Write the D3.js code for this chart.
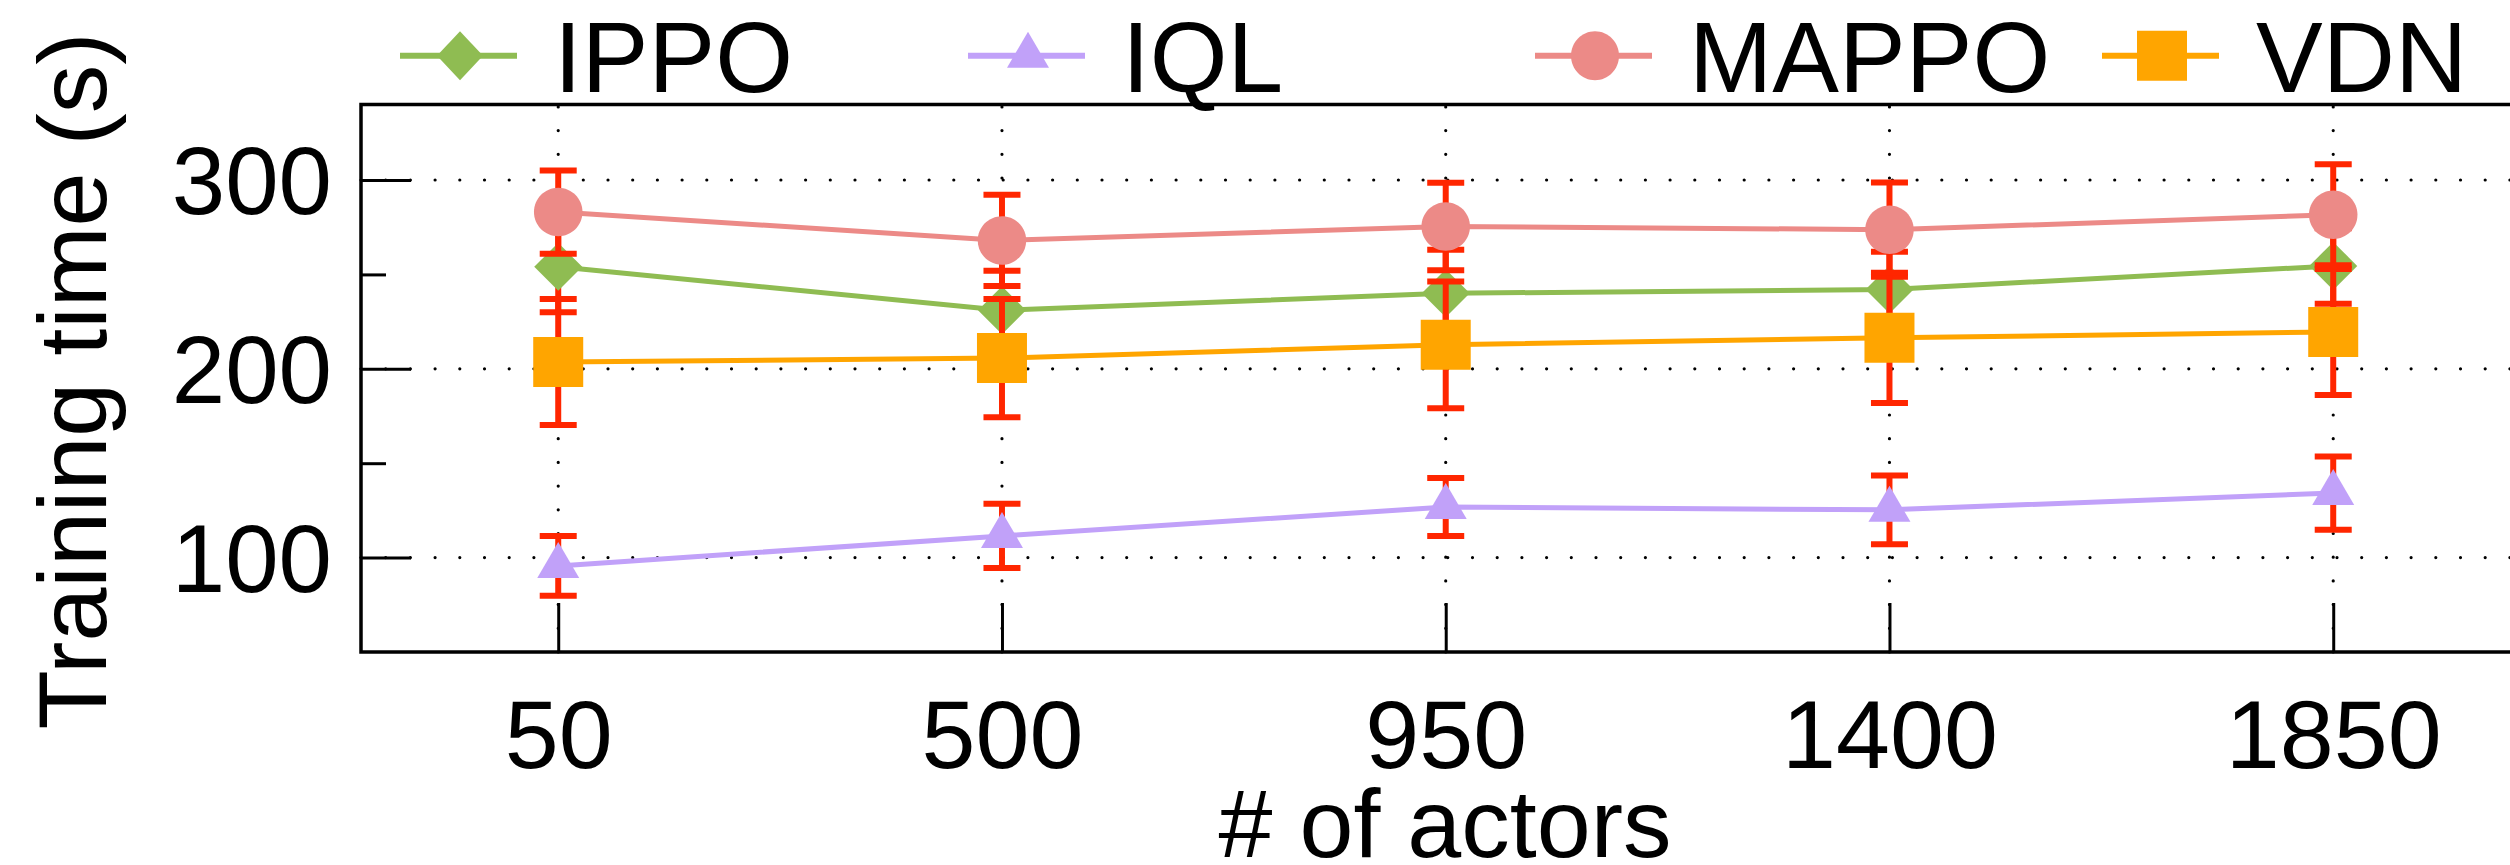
<!DOCTYPE html>
<html>
<head>
<meta charset="utf-8">
<script src="https://cdn.jsdelivr.net/npm/d3@7/dist/d3.min.js"></script>
<style>
  html, body { margin: 0; padding: 0; background: #fff; }
  svg { display: block; }
  text { font-family: "Liberation Sans", Arial, Helvetica, sans-serif; fill: #000; }
</style>
</head>
<body>
<svg id="chart" width="2510" height="865"></svg>
<script>
// ---- data ----
const actors = [50, 500, 950, 1400, 1850];
const xTickLabels = ["50", "500", "950", "1400", "1850"];
const yTicks = [100, 200, 300];
const yMinorTicks = [150, 250];

const seriesNames = ["IPPO", "IQL", "MAPPO", "VDN"];
const ippoTime  = [254, 231, 240, 242, 254.5];
const ippoErr   = [24, 21, 23, 20, 20];
const iqlTime   = [95.6, 111.5, 126.8, 125.3, 134.2];
const iqlErr    = [15.8, 17, 15.3, 18.2, 19.4];
const mappoTime = [283, 268, 275.4, 273.7, 281.6];
const mappoErr  = [22, 24.2, 23.2, 25, 26.7];
const vdnTime   = [203.6, 205.7, 212.7, 216.4, 219.5];
const vdnErr    = [33.4, 31.3, 33.6, 34.5, 33.4];

const xLabel = "# of actors";
const yLabel = "Training time (s)";

// ---- styling ----
const colors = { IPPO: "#8fbc52", IQL: "#c1a1f9", MAPPO: "#ec8a87", VDN: "#ffa500" };
const shapes = { IPPO: "diamond", IQL: "triangle", MAPPO: "circle", VDN: "square" };
const errColor = "#ff2600";

const series = [
  { name: "IPPO",  values: ippoTime,  errs: ippoErr },
  { name: "IQL",   values: iqlTime,   errs: iqlErr },
  { name: "MAPPO", values: mappoTime, errs: mappoErr },
  { name: "VDN",   values: vdnTime,   errs: vdnErr }
];

const svg = d3.select("#chart");
const plotLeft = 361, plotTop = 104.5, plotBottom = 652;

const x = d3.scaleLinear().domain([-150, 2050]).range([plotLeft, plotLeft + 2200 * (1775 / 1800)]);
const y = d3.scaleLinear().domain([50, 340]).range([plotBottom, plotTop]);

// marker path builders (width, height)
function markerPath(shape, w, h) {
  const p = d3.path();
  const a = w / 2, b = h / 2;
  if (shape === "circle") {
    const k = 0.5523;
    p.moveTo(a, 0);
    p.bezierCurveTo(a, k * b, k * a, b, 0, b);
    p.bezierCurveTo(-k * a, b, -a, k * b, -a, 0);
    p.bezierCurveTo(-a, -k * b, -k * a, -b, 0, -b);
    p.bezierCurveTo(k * a, -b, a, -k * b, a, 0);
  } else if (shape === "diamond") {
    p.moveTo(0, -b); p.lineTo(a, 0); p.lineTo(0, b); p.lineTo(-a, 0);
  } else if (shape === "square") {
    p.rect(-a, -b, w, h);
  } else if (shape === "triangle") {
    // centroid at origin
    p.moveTo(0, -2 * h / 3); p.lineTo(a, h / 3); p.lineTo(-a, h / 3);
  }
  p.closePath();
  return p.toString();
}
const plotMarker = {
  circle: [48.5, 48.5], diamond: [48, 48], square: [50, 50], triangle: [42, 36]
};
const legendMarker = {
  circle: [48, 49], diamond: [46, 49], square: [50, 50], triangle: [42, 36]
};

// ---- grid (dotted) ----
const grid = svg.append("g").attr("stroke", "#000").attr("stroke-width", 3.2)
  .attr("stroke-linecap", "round").attr("fill", "none");
grid.selectAll("line.h").data(yTicks).join("line")
  .attr("class", "h")
  .attr("x1", plotLeft).attr("x2", 2560)
  .attr("y1", d => y(d)).attr("y2", d => y(d))
  .attr("stroke-dasharray", "0,24.7");
grid.selectAll("line.v").data(actors).join("line")
  .attr("class", "v")
  .attr("x1", d => x(d)).attr("x2", d => x(d))
  .attr("y1", plotBottom).attr("y2", plotTop)
  .attr("stroke-dasharray", "0,23.7");

// ---- axes ----
const yAxis = d3.axisLeft(y).tickValues(yTicks).tickSizeInner(-50).tickSizeOuter(0).tickFormat("");
const gy = svg.append("g").attr("transform", `translate(${plotLeft},0)`).call(yAxis);
gy.select(".domain").remove();
gy.selectAll(".tick line").attr("stroke", "#000").attr("stroke-width", 3);

const yMinor = d3.axisLeft(y).tickValues(yMinorTicks).tickSizeInner(-25).tickSizeOuter(0).tickFormat("");
const gym = svg.append("g").attr("transform", `translate(${plotLeft},0)`).call(yMinor);
gym.select(".domain").remove();
gym.selectAll(".tick line").attr("stroke", "#000").attr("stroke-width", 3);

const xAxis = d3.axisBottom(x).tickValues(actors).tickSizeInner(-49).tickSizeOuter(0)
  .tickPadding(47).tickFormat((d, i) => xTickLabels[i]);
const gx = svg.append("g").attr("transform", `translate(0,${plotBottom})`).call(xAxis);
gx.select(".domain").remove();
gx.selectAll(".tick line").attr("stroke", "#000").attr("stroke-width", 3);
gx.selectAll(".tick text").attr("font-size", 97)
  .attr("font-family", "'Liberation Sans', Arial, sans-serif").attr("fill", "#000");

// y tick labels
svg.append("g").selectAll("text").data(yTicks).join("text")
  .attr("x", 332).attr("y", d => y(d) + 34)
  .attr("text-anchor", "end")
  .attr("font-size", 96)
  .text(d => d);

// frame
svg.append("rect")
  .attr("x", plotLeft).attr("y", plotTop)
  .attr("width", 2600 - plotLeft).attr("height", plotBottom - plotTop)
  .attr("fill", "none").attr("stroke", "#000").attr("stroke-width", 3.5);

// ---- series: error bars, line, markers ----
const line = d3.line().x((d, i) => x(actors[i])).y(d => y(d));
series.forEach(s => {
  const g = svg.append("g");
  const eb = g.append("g").attr("stroke", errColor);
  s.values.forEach((v, i) => {
    const cx = x(actors[i]);
    eb.append("line").attr("x1", cx).attr("x2", cx)
      .attr("y1", y(v + s.errs[i])).attr("y2", y(v - s.errs[i]))
      .attr("stroke-width", 6);
    [v + s.errs[i], v - s.errs[i]].forEach(e => {
      eb.append("line").attr("x1", cx - 18.5).attr("x2", cx + 18.5)
        .attr("y1", y(e)).attr("y2", y(e)).attr("stroke-width", 6);
    });
  });
  g.append("path").datum(s.values).attr("d", line)
    .attr("fill", "none").attr("stroke", colors[s.name]).attr("stroke-width", 5);
  const [mw, mh] = plotMarker[shapes[s.name]];
  g.selectAll("path.m").data(s.values).join("path")
    .attr("class", "m")
    .attr("transform", (d, i) => `translate(${x(actors[i])},${y(d)})`)
    .attr("d", markerPath(shapes[s.name], mw, mh))
    .attr("fill", colors[s.name]);
});

// ---- legend ----
const legendX = { IPPO: 400, IQL: 968, MAPPO: 1535, VDN: 2102 };
const legendY = 55.7;
const leg = svg.append("g");
seriesNames.forEach(name => {
  const lx = legendX[name];
  const g = leg.append("g").attr("transform", `translate(${lx},${legendY})`);
  g.append("line").attr("x1", 0).attr("x2", 117).attr("y1", 0).attr("y2", 0)
    .attr("stroke", colors[name]).attr("stroke-width", 6);
  const [mw, mh] = legendMarker[shapes[name]];
  g.append("path").attr("transform", "translate(60,0)")
    .attr("d", markerPath(shapes[name], mw, mh)).attr("fill", colors[name]);
  g.append("text").attr("x", 154).attr("y", 36).attr("font-size", 100).text(name);
});

// ---- axis titles ----
svg.append("text")
  .attr("x", 1445).attr("y", 857)
  .attr("text-anchor", "middle").attr("font-size", 97)
  .text(xLabel);

svg.append("text")
  .attr("transform", "translate(106,381) rotate(-90)")
  .attr("text-anchor", "middle").attr("font-size", 97)
  .text(yLabel);
</script>
</body>
</html>
